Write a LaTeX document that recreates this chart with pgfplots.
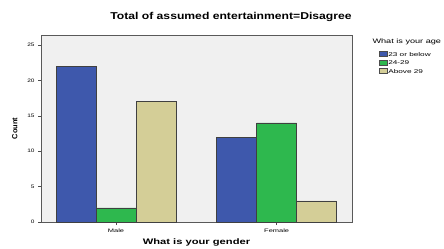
\documentclass[border=0pt]{standalone}
\usepackage{graphicx}
\usepackage{pgfplots}
\pgfplotsset{compat=1.18}
\usepackage{fontspec}
\setmainfont{Liberation Sans}
\definecolor{cblue}{RGB}{62,88,172}
\definecolor{cgreen}{RGB}{46,184,78}
\definecolor{ctan}{RGB}{212,206,151}
\definecolor{cbg}{RGB}{240,240,240}
\newcommand{\sx}[2]{\scalebox{#1}[1]{#2}}
\begin{document}
\begin{tikzpicture}[x=1bp,y=1bp]
\path[use as bounding box] (0,0) rectangle (444,248);
\begin{axis}[at={(41bp,26bp)}, anchor=south west, scale only axis,
  width=311bp, height=187bp,
  xmin=-0.467, xmax=1.469, ymin=0, ymax=26.4,
  ybar=0pt, bar width=40bp,
  xtick={0,1}, xticklabels={\sx{1.5}{Male},\sx{1.5}{Female}}, ytick={0,5,...,25},
  yticklabel={\sx{1.3}{\pgfmathprintnumber{\tick}}},
  tick align=outside, tick pos=left, major tick length=3bp,
  tick style={black!70, thin},
  axis background/.style={fill=cbg},
  axis line style={black!65},
  tick label style={font=\fontsize{5}{6}\selectfont},
  /pgf/number format/assume math mode=true,
  xlabel={\sx{1.4}{What is your gender}}, ylabel={Count},
  xlabel style={at={(axis description cs:0.5,-0.111)}, anchor=center, font=\fontsize{8}{9}\selectfont\bfseries},
  ylabel style={at={(axis description cs:-0.084,0.5)}, anchor=center, font=\fontsize{7.5}{8}\selectfont\bfseries},
  legend cell align=left,
  legend style={at={(1.087,0.914)}, anchor=north west, draw=none, fill=none,
    font=\fontsize{5.5}{5.5}\selectfont, row sep=1.5bp, inner sep=0pt,
    nodes={inner sep=0.5bp, text height=4bp, text depth=1bp}},
  legend image code/.code={\draw[#1, draw=black!70] (0bp,-1.5bp) rectangle (8bp,3.5bp);},
  every axis plot/.append style={draw=black!75, line width=0.5pt},
]
\addplot[fill=cblue] coordinates {(0,22) (1,12)};
\addlegendentry{\sx{1.5}{23 or below}}
\addplot[fill=cgreen] coordinates {(0,2) (1,14)};
\addlegendentry{\sx{1.5}{24-29}}
\addplot[fill=ctan] coordinates {(0,17) (1,3)};
\addlegendentry{\sx{1.5}{Above 29}}
\end{axis}
\node[font=\fontsize{10}{11}\selectfont\bfseries] at (231,231) {\sx{1.22}{Total of assumed entertainment=Disagree}};
\node[font=\fontsize{6.5}{7}\selectfont, anchor=west] at (369,206) {\sx{1.41}{What is your age}};
\end{tikzpicture}
\end{document}
